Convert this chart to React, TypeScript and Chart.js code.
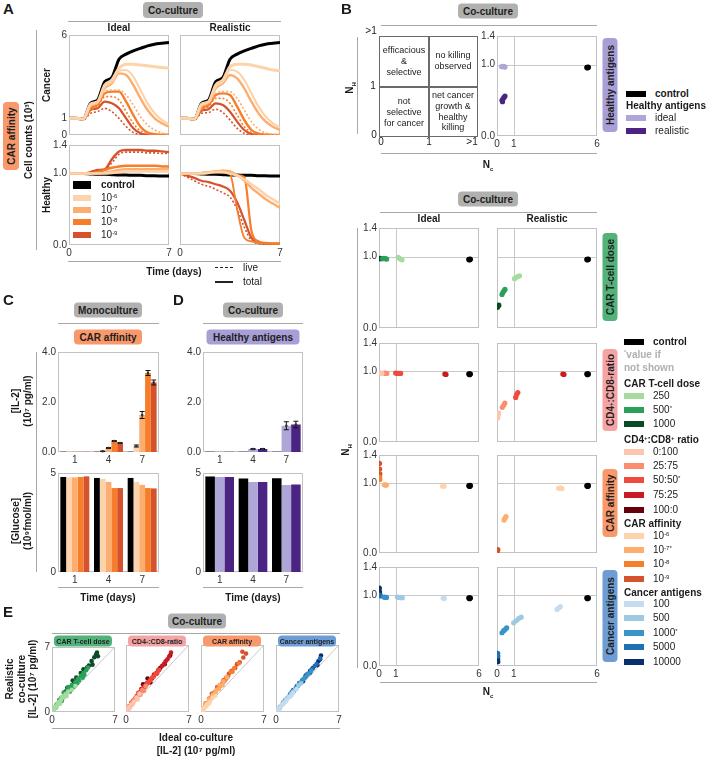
import React, { useEffect, useRef } from "react";
import { Chart, registerables } from "chart.js";
Chart.register(...registerables);

if (typeof document !== "undefined") { document.body.style.margin = "0"; document.body.style.background = "#fff"; }

const FONT = "'Liberation Sans', Arial, Helvetica, sans-serif";

// ---------------- DATA ----------------
const T = [0, 0.5, 1, 1.5, 2, 2.5, 3, 3.5, 4, 4.5, 5, 5.5, 6, 6.5, 7];

// Panel A – cancer, ideal
const CI_control = [1, 1, 0.95, 1.9, 2.1, 3.2, 3.45, 4.55, 4.85, 5.05, 5.2, 5.35, 5.45, 5.5, 5.55];
const CI_a6_hi = [1, 1, 0.95, 1.85, 2.0, 3.0, 3.3, 4.0, 4.25, 4.25, 4.2, 4.15, 4.1, 4.05, 4.0];
const CI_a6_lo = [1, 1, 0.95, 1.8, 2.0, 2.9, 3.2, 3.85, 3.9, 3.5, 2.7, 1.9, 1.3, 0.9, 0.65];
const CI_a7_a = [1, 1, 0.95, 1.75, 1.95, 2.8, 3.1, 3.7, 3.6, 3.0, 2.2, 1.5, 1.0, 0.7, 0.5];
const CI_a7_b = [1, 1, 0.95, 1.7, 1.9, 2.6, 2.7, 2.7, 2.4, 1.8, 1.1, 0.6, 0.3, 0.12, 0.05];
const CI_a8_a = [1, 1, 0.95, 1.6, 1.8, 2.5, 2.6, 2.6, 2.0, 1.2, 0.5, 0.15, 0.05, 0.02, 0.01];
const CI_a8_b = [1, 1, 0.95, 1.5, 1.7, 2.3, 2.3, 2.1, 1.4, 0.7, 0.25, 0.08, 0.02, 0.01, 0];
const CI_a9_a = [1, 1, 0.95, 1.5, 1.6, 2.0, 1.9, 1.6, 1.0, 0.4, 0.1, 0.02, 0, 0, 0];
const CI_a9_b = [1, 1, 0.9, 1.3, 1.4, 1.6, 1.4, 1.0, 0.5, 0.15, 0.03, 0, 0, 0, 0];

// Panel A – cancer, realistic
const CR_control = [1, 1, 0.95, 1.9, 2.1, 3.2, 3.45, 4.55, 4.85, 5.05, 5.2, 5.35, 5.45, 5.5, 5.55];
const CR_a6_hi = [1, 1, 0.95, 1.85, 2.0, 3.0, 3.3, 4.1, 4.25, 4.25, 4.2, 4.1, 4.0, 3.9, 3.85];
const CR_a6_lo = [1, 1, 0.95, 1.8, 2.0, 2.9, 3.2, 3.9, 3.8, 3.3, 2.5, 1.7, 1.1, 0.7, 0.45];
const CR_a7_a = [1, 1, 0.95, 1.75, 1.95, 2.8, 3.1, 3.6, 3.4, 2.8, 2.0, 1.3, 0.8, 0.5, 0.3];
const CR_a7_b = [1, 1, 0.95, 1.7, 1.9, 2.5, 2.6, 2.6, 2.2, 1.5, 0.8, 0.35, 0.12, 0.05, 0.02];
const CR_a8_a = [1, 1, 0.95, 1.6, 1.8, 2.4, 2.5, 2.4, 1.7, 0.9, 0.3, 0.08, 0.02, 0.01, 0];
const CR_a8_b = [1, 1, 0.95, 1.5, 1.7, 2.2, 2.2, 1.9, 1.2, 0.5, 0.15, 0.03, 0.01, 0, 0];
const CR_a9_a = [1, 1, 0.95, 1.45, 1.55, 1.9, 1.8, 1.4, 0.8, 0.3, 0.06, 0.01, 0, 0, 0];
const CR_a9_b = [1, 1, 0.9, 1.3, 1.35, 1.55, 1.35, 0.9, 0.4, 0.1, 0.02, 0, 0, 0, 0];

// Panel A – healthy, ideal
const HI_control = [1, 1, 1, 0.995, 0.99, 0.99, 0.985, 0.98, 0.98, 0.975, 0.975, 0.97, 0.97, 0.965, 0.965];
const HI_a6 = [1, 1, 1, 1, 1, 1, 1.01, 1.02, 1.03, 1.03, 1.03, 1.03, 1.03, 1.03, 1.03];
const HI_a7 = [1, 1, 1, 1, 1, 1.01, 1.03, 1.05, 1.06, 1.06, 1.06, 1.06, 1.06, 1.06, 1.06];
const HI_a8 = [1, 1, 1, 1, 1.02, 1.05, 1.08, 1.1, 1.11, 1.11, 1.11, 1.11, 1.11, 1.1, 1.1];
const HI_a9_a = [1, 1, 1, 1.02, 1.05, 1.06, 1.2, 1.31, 1.33, 1.33, 1.33, 1.32, 1.32, 1.31, 1.3];
const HI_a9_b = [1, 1, 1, 1.01, 1.04, 1.05, 1.15, 1.27, 1.3, 1.3, 1.3, 1.29, 1.29, 1.28, 1.28];

// Panel A – healthy, realistic
const HR_control = [1, 1, 1, 0.995, 0.99, 0.99, 0.985, 0.98, 0.98, 0.975, 0.975, 0.97, 0.97, 0.965, 0.965];
const HR_a6 = [1, 1, 1, 1.0, 1.01, 1.02, 1.02, 1.0, 0.97, 0.92, 0.85, 0.78, 0.7, 0.64, 0.58];
const HR_a7 = [1, 1, 1, 1.01, 1.02, 1.03, 1.04, 1.03, 0.98, 0.9, 0.8, 0.72, 0.64, 0.58, 0.52];
const HR_a8_a = [1, 1, 1, 1.01, 1.02, 1.03, 1.04, 1.0, 0.5, 0.1, 0.05, 0.03, 0.02, 0.02, 0.02];
const HR_a8_b = [1, 1, 1, 1.0, 1.01, 1.02, 1.02, 1.0, 0.98, 0.95, 0.2, 0.05, 0.03, 0.02, 0.02];
const HR_a9_a = [1, 0.97, 0.94, 0.9, 0.88, 0.85, 0.82, 0.76, 0.6, 0.35, 0.1, 0.03, 0.02, 0.02, 0.02];
const HR_a9_b = [1, 0.95, 0.9, 0.85, 0.82, 0.78, 0.73, 0.67, 0.5, 0.25, 0.06, 0.02, 0.01, 0.01, 0.01];

// Panel B – top (healthy antigens)
const B_control = [[5.4, 0.96], [5.47, 0.962], [5.44, 0.955]];
const B_HA_ideal = [[0.28, 0.97], [0.35, 0.975], [0.42, 0.97], [0.48, 0.965]];
const B_HA_real = [[0.3, 0.5], [0.36, 0.52], [0.42, 0.54], [0.48, 0.56], [0.33, 0.48]];

// Panel B – bottom rows
const B_dose_ideal_1000 = [[0.02, 0.97], [0.06, 0.975], [0.1, 0.97]];
const B_dose_ideal_500 = [[0.22, 0.97], [0.3, 0.975], [0.38, 0.97], [0.46, 0.965]];
const B_dose_ideal_250 = [[1.15, 0.99], [1.22, 0.975], [1.3, 0.965], [1.38, 0.955]];
const B_dose_real_250 = [[1.05, 0.69], [1.15, 0.71], [1.25, 0.72], [1.35, 0.73]];
const B_dose_real_500 = [[0.3, 0.47], [0.36, 0.5], [0.42, 0.52], [0.48, 0.54]];
const B_dose_real_1000 = [[0.03, 0.29], [0.07, 0.31], [0.11, 0.32]];

const B_ratio_ideal_0 = [[0.03, 0.98], [0.1, 0.975], [0.17, 0.97]];
const B_ratio_ideal_25 = [[0.33, 0.975], [0.4, 0.97], [0.47, 0.97]];
const B_ratio_ideal_50 = [[1.0, 0.975], [1.1, 0.97], [1.2, 0.97], [1.3, 0.97]];
const B_ratio_ideal_75 = [[3.95, 0.96], [4.02, 0.955]];
const B_ratio_real_0 = [[0.04, 0.34], [0.07, 0.38], [0.1, 0.41]];
const B_ratio_real_25 = [[0.32, 0.49], [0.4, 0.52], [0.47, 0.55]];
const B_ratio_real_50 = [[1.12, 0.63], [1.18, 0.67], [1.25, 0.7]];
const B_ratio_real_75 = [[3.95, 0.96], [4.02, 0.955]];

const B_aff_ideal_9 = [[0.03, 1.28], [0.04, 1.2], [0.05, 1.13]];
const B_aff_ideal_8 = [[0.04, 1.08], [0.05, 1.05]];
const B_aff_ideal_7 = [[0.32, 0.975], [0.38, 0.97], [0.45, 0.97]];
const B_aff_ideal_6 = [[3.82, 0.955], [3.9, 0.955]];
const B_aff_real_6 = [[3.7, 0.925], [3.8, 0.93], [3.9, 0.92]];
const B_aff_real_7 = [[0.42, 0.47], [0.48, 0.5], [0.54, 0.52]];
const B_aff_real_9 = [[0.03, 0.03], [0.05, 0.05]];

const B_ca_ideal_10000 = [[0.02, 1.1], [0.03, 1.05], [0.04, 1.02]];
const B_ca_ideal_5000 = [[0.05, 1.0], [0.08, 0.99]];
const B_ca_ideal_1000 = [[0.3, 0.975], [0.38, 0.97], [0.45, 0.97]];
const B_ca_ideal_500 = [[1.1, 0.975], [1.2, 0.97], [1.3, 0.965], [1.4, 0.965]];
const B_ca_ideal_100 = [[3.85, 0.96], [3.92, 0.955]];
const B_ca_real_100 = [[3.6, 0.8], [3.7, 0.82], [3.8, 0.84]];
const B_ca_real_500 = [[1.0, 0.61], [1.15, 0.64], [1.3, 0.67], [1.45, 0.69]];
const B_ca_real_1000 = [[0.3, 0.47], [0.4, 0.5], [0.5, 0.52], [0.58, 0.54]];
const B_ca_real_5000 = [[0.04, 0.18], [0.05, 0.14]];
const B_ca_real_10000 = [[0.04, 0.1], [0.05, 0.06]];

// Panel C / D bars
const DAYS = ["1", "4", "7"];
const C_IL2_ctrl = [0.01, 0.01, 0.01];
const C_IL2_a6 = [0.01, 0.03, 0.24];
const C_IL2_a7 = [0.01, 0.16, 1.48];
const C_IL2_a8 = [0.01, 0.44, 3.16];
const C_IL2_a9 = [0.01, 0.36, 2.78];
const C_IL2_err_a6 = [0, 0.01, 0.04];
const C_IL2_err_a7 = [0, 0.02, 0.14];
const C_IL2_err_a8 = [0, 0.02, 0.1];
const C_IL2_err_a9 = [0, 0.02, 0.1];
const C_GLU_ctrl = [4.8, 4.75, 4.75];
const C_GLU_a6 = [4.78, 4.7, 4.55];
const C_GLU_a7 = [4.78, 4.55, 4.4];
const C_GLU_a8 = [4.8, 4.24, 4.24];
const C_GLU_a9 = [4.83, 4.24, 4.22];
const D_IL2_ctrl = [0.01, 0.01, 0.01];
const D_IL2_ideal = [0.01, 0.12, 1.05];
const D_IL2_real = [0.01, 0.12, 1.1];
const D_IL2_err_ideal = [0, 0.02, 0.16];
const D_IL2_err_real = [0, 0.02, 0.13];
const D_GLU_ctrl = [4.82, 4.72, 4.74];
const D_GLU_ideal = [4.8, 4.55, 4.4];
const D_GLU_real = [4.8, 4.55, 4.42];

// Panel E scatter
const E_dose250 = [[0.05, 0.1], [0.2, 0.3], [0.4, 0.6], [0.6, 0.8], [0.8, 1.1], [1.0, 1.3], [1.3, 1.6], [1.5, 1.9], [1.8, 2.2], [0.3, 0.5], [0.7, 1.0], [0.15, 0.25], [0.5, 0.5], [0.9, 0.9], [1.1, 1.6], [1.6, 1.7], [2.2, 2.4], [2.6, 2.8]];
const E_dose500 = [[0.3, 0.4], [0.5, 0.8], [0.9, 1.2], [1.2, 1.6], [1.5, 2.0], [1.9, 2.4], [2.2, 2.9], [2.6, 3.2], [2.9, 3.6], [3.2, 3.9], [3.5, 4.2], [3.8, 4.5], [4.0, 4.8], [0.1, 0.15], [0.4, 0.45], [0.7, 0.9], [1.0, 1.5], [1.4, 1.7], [1.7, 2.3], [2.0, 2.2], [2.4, 2.7], [2.8, 3.1], [3.0, 3.4], [3.4, 3.7], [3.6, 4.0], [2.1, 2.7], [1.1, 1.2], [0.8, 1.3], [1.3, 2.1], [1.8, 2.7]];
const E_dose1000 = [[2.3, 3.4], [2.5, 3.2], [2.7, 3.7], [3.2, 4.2], [3.7, 4.5], [4.1, 5.0], [4.4, 5.5], [4.7, 5.9], [4.9, 6.2], [5.1, 6.0], [4.5, 5.1], [1.5, 2.2], [1.7, 2.6], [3.5, 4.6], [3.9, 4.8], [5.0, 6.4]];
const E_r0 = [[0.1, 0.2], [0.3, 0.5], [0.6, 0.8], [0.9, 1.1], [1.2, 1.5], [1.5, 1.9], [0.4, 0.4], [0.8, 0.9], [1.3, 1.3]];
const E_r25 = [[0.2, 0.3], [0.5, 0.7], [0.8, 1.1], [1.1, 1.5], [1.5, 1.9], [1.8, 2.3], [2.2, 2.7], [0.3, 0.6], [0.7, 0.8], [1.0, 1.3], [1.6, 1.8], [2.0, 2.2]];
const E_r50 = [[0.4, 0.6], [0.8, 1.2], [1.2, 1.7], [1.7, 2.2], [2.1, 2.6], [2.5, 3.1], [2.9, 3.6], [3.3, 4.0], [3.7, 4.4], [0.6, 1.0], [1.0, 1.4], [1.4, 2.0], [1.9, 2.4], [2.3, 2.9], [2.7, 3.3], [3.1, 3.7], [3.5, 4.1]];
const E_r75 = [[1.4, 2.0], [2.0, 2.7], [2.6, 3.3], [3.1, 3.9], [3.6, 4.4], [4.0, 4.8], [4.4, 5.3], [4.8, 5.8], [5.0, 6.2], [1.7, 2.4], [2.3, 3.0], [2.9, 3.5], [3.4, 4.0], [4.2, 5.0], [4.6, 5.5]];
const E_r100 = [[2.4, 3.5], [2.7, 3.1], [3.4, 4.1], [4.3, 5.0], [4.9, 5.9], [1.9, 2.9], [3.8, 4.6]];
const E_a6 = [[0.05, 0.1], [0.2, 0.3], [0.4, 0.5], [0.7, 0.8], [1.0, 1.1], [1.3, 1.5], [0.3, 0.2], [0.6, 0.6], [0.9, 0.9], [1.6, 1.7]];
const E_a7 = [[0.2, 0.4], [0.5, 0.8], [0.9, 1.3], [1.3, 1.8], [1.7, 2.3], [2.1, 2.8], [2.5, 3.2], [2.9, 3.6], [0.4, 0.5], [0.8, 1.0], [1.2, 1.5], [1.6, 2.0], [2.0, 2.4], [2.4, 2.8]];
const E_a8 = [[0.5, 0.9], [0.9, 1.4], [1.4, 2.0], [1.9, 2.6], [2.4, 3.1], [2.8, 3.6], [3.3, 4.2], [3.7, 4.6], [4.2, 5.1], [1.1, 1.5], [1.6, 2.1], [2.1, 2.7], [2.6, 3.2], [3.0, 3.7], [3.5, 4.2]];
const E_a9 = [[1.2, 1.9], [1.8, 2.6], [2.5, 3.3], [3.1, 4.0], [3.8, 4.6], [4.3, 5.2], [4.7, 5.7], [5.0, 6.1], [4.6, 6.3], [2.1, 2.8], [2.8, 3.5], [3.4, 4.3], [4.0, 5.0]];
const E_c100 = [[0.05, 0.1], [0.3, 0.4], [0.6, 0.7], [0.9, 1.0], [1.2, 1.3], [1.5, 1.6], [1.9, 2.0], [0.4, 0.3], [0.8, 0.8], [1.1, 1.1], [1.7, 1.7], [2.3, 2.4]];
const E_c500 = [[0.2, 0.3], [0.5, 0.6], [0.9, 1.0], [1.3, 1.5], [1.7, 1.9], [2.1, 2.3], [2.5, 2.8], [0.7, 0.8], [1.1, 1.3], [1.5, 1.6], [1.9, 2.1], [2.8, 3.0]];
const E_c1000 = [[0.4, 0.5], [0.8, 1.0], [1.2, 1.4], [1.7, 2.0], [2.2, 2.5], [2.6, 3.0], [3.0, 3.4], [3.4, 3.8], [3.9, 4.3], [1.0, 1.2], [1.5, 1.7], [2.0, 2.2], [2.4, 2.7], [2.8, 3.1], [3.2, 3.6], [3.6, 4.0]];
const E_c5000 = [[1.0, 1.2], [1.6, 1.9], [2.3, 2.7], [2.9, 3.3], [3.5, 4.0], [4.0, 4.5], [4.5, 5.0], [4.9, 5.6], [1.9, 2.3], [2.6, 3.0], [3.2, 3.6], [3.8, 4.1], [4.3, 4.8]];
const E_c10000 = [[1.8, 2.1], [2.6, 3.0], [3.3, 3.8], [4.1, 4.6], [4.7, 5.3], [5.0, 5.9], [4.6, 4.9], [3.0, 3.2], [3.8, 4.3], [4.9, 5.5]];

// ---------------- COLOURS ----------------
const A6 = "#fdd3ab", A7 = "#fdad6d", A8 = "#f57d2b", A9 = "#d4532d";
const G250 = "#a6dba0", G500 = "#2aa05a", G1000 = "#0a4a25";
const R0 = "#fcc5b0", R25 = "#fb8d6f", R50 = "#ef4a3c", R75 = "#c81b24", R100 = "#67000d";
const C100 = "#c6dbef", C500 = "#9ecae1", C1000 = "#3a93c6", C5000 = "#1f6fb2", C10000 = "#08306b";
const HA_I = "#aea6d6", HA_R = "#4b2383";
const P_GREEN = "#52b27a", P_PINK = "#f5a4a6", P_ORANGE = "#f8986b", P_BLUE = "#6d9dd4", P_PURPLE = "#a79fd6", P_GRAY = "#b0b0b0";

// ---------------- CHART HELPERS ----------------
function lin(min: number, max: number, ticks: number[], labels: string[], show = true) {
  return {
    type: "linear", min, max,
    grid: { display: false, drawTicks: false }, border: { display: false },
    afterBuildTicks: (ax: any) => { ax.ticks = ticks.map((v) => ({ value: v })); },
    ticks: { display: show, autoSkip: false, maxRotation: 0, padding: 2, color: "#333", font: { size: 10, family: FONT }, callback: (_v: any, i: number) => labels[i] },
  };
}
function cat(show = true) {
  return {
    type: "category", grid: { display: false, drawTicks: false }, border: { display: false }, offset: true,
    ticks: { display: show, padding: 2, color: "#333", font: { size: 10, family: FONT } },
  };
}

const framePlugin = {
  id: "frame",
  beforeDatasetsDraw(chart: any) {
    const { ctx, chartArea: a } = chart;
    ctx.save(); ctx.strokeStyle = "#c2c2c2"; ctx.lineWidth = 1;
    ctx.strokeRect(Math.round(a.left) + 0.5, Math.round(a.top) + 0.5, Math.round(a.right - a.left) - 1, Math.round(a.bottom - a.top) - 1);
    ctx.restore();
  },
};
function refs(xs: number[], ys: number[], diag = false) {
  return {
    id: "refs",
    beforeDatasetsDraw(chart: any) {
      const { ctx, chartArea: a, scales } = chart;
      ctx.save(); ctx.strokeStyle = "#c8c8c8"; ctx.lineWidth = 1;
      xs.forEach((v) => { const p = Math.round(scales.x.getPixelForValue(v)) + 0.5; ctx.beginPath(); ctx.moveTo(p, a.top); ctx.lineTo(p, a.bottom); ctx.stroke(); });
      ys.forEach((v) => { const p = Math.round(scales.y.getPixelForValue(v)) + 0.5; ctx.beginPath(); ctx.moveTo(a.left, p); ctx.lineTo(a.right, p); ctx.stroke(); });
      if (diag) {
        ctx.beginPath();
        ctx.moveTo(scales.x.getPixelForValue(scales.x.min), scales.y.getPixelForValue(scales.y.min));
        ctx.lineTo(scales.x.getPixelForValue(scales.x.max), scales.y.getPixelForValue(scales.y.max));
        ctx.stroke();
      }
      ctx.restore();
    },
  };
}
const errPlugin = {
  id: "errs",
  afterDatasetsDraw(chart: any) {
    const { ctx, scales } = chart;
    chart.data.datasets.forEach((ds: any, i: number) => {
      if (!ds.errs) return;
      const meta = chart.getDatasetMeta(i);
      meta.data.forEach((bar: any, j: number) => {
        const e = ds.errs[j]; if (!e) return;
        const v = ds.data[j];
        const y1 = scales.y.getPixelForValue(v + e), y0 = scales.y.getPixelForValue(v - e);
        ctx.save(); ctx.strokeStyle = "#111"; ctx.lineWidth = 1;
        ctx.beginPath(); ctx.moveTo(bar.x, y0); ctx.lineTo(bar.x, y1);
        ctx.moveTo(bar.x - 2.5, y0); ctx.lineTo(bar.x + 2.5, y0);
        ctx.moveTo(bar.x - 2.5, y1); ctx.lineTo(bar.x + 2.5, y1); ctx.stroke();
        ctx.fillStyle = "#333";
        ctx.beginPath(); ctx.arc(bar.x, scales.y.getPixelForValue(v), 1.3, 0, Math.PI * 2); ctx.fill();
        ctx.restore();
      });
    });
  },
};

function baseOptions(scales: any) {
  return { animation: false, responsive: false, maintainAspectRatio: false, plugins: { legend: { display: false }, tooltip: { enabled: false } }, scales };
}

function ln(vals: number[], color: string, width: number, dash: number[] = []) {
  return { data: T.map((t, i) => ({ x: t, y: vals[i] })), borderColor: color, borderWidth: width, borderDash: dash, pointRadius: 0, fill: false, cubicInterpolationMode: "monotone" };
}
function pts(arr: number[][], color: string, r = 2.4) {
  return { data: arr.map((p) => ({ x: p[0], y: p[1] })), backgroundColor: color, borderColor: color, borderWidth: 0, pointRadius: r };
}
function bar(vals: number[], color: string, errs?: number[]) {
  return { data: vals, backgroundColor: color, borderWidth: 0, categoryPercentage: 0.86, barPercentage: 1.0, errs };
}

function Plot({ left, top, w, h, padL = 26, padB = 14, padT = 8, padR = 8, config }: any) {
  const ref = useRef<HTMLCanvasElement>(null);
  const W = w + padL + padR, H = h + padT + padB;
  useEffect(() => {
    const cfg = config;
    cfg.options.layout = { padding: { top: padT, right: padR, left: 0, bottom: 0 } };
    cfg.options.scales.x.afterFit = (s: any) => { s.height = padB; };
    cfg.options.scales.y.afterFit = (s: any) => { s.width = padL; };
    const c = new Chart(ref.current as any, cfg);
    return () => c.destroy();
  }, []);
  return <canvas ref={ref} width={W} height={H} style={{ position: "absolute", left: left - padL, top: top - padT, width: W, height: H }} />;
}

// ---------------- HTML HELPERS ----------------
function Tx({ x, y, children, size = 10, bold = false, color = "#1a1a1a", rot = 0, align = "center", lh = 1.15 }: any) {
  const tr = align === "center" ? `translate(-50%,-50%) rotate(${rot}deg)` : align === "right" ? "translate(-100%,-50%)" : "translateY(-50%)";
  return <div style={{ position: "absolute", left: x, top: y, transform: tr, fontSize: size, fontWeight: bold ? 700 : 400, color, fontFamily: FONT, whiteSpace: "nowrap", textAlign: "center", lineHeight: lh, zIndex: 3 }}>{children}</div>;
}
function Pill({ cx, cy, w, h, bg, children, size = 10, rot = 0 }: any) {
  return <div style={{ position: "absolute", left: cx, top: cy, width: w, height: h, transform: `translate(-50%,-50%) rotate(${rot}deg)`, background: bg, borderRadius: 4, display: "flex", alignItems: "center", justifyContent: "center", fontSize: size, fontWeight: 700, color: "#1e1e1e", fontFamily: FONT, whiteSpace: "nowrap", zIndex: 3 }}>{children}</div>;
}
function HL({ x1, x2, y, c = "#a8a8a8" }: any) { return <div style={{ position: "absolute", left: x1, top: y, width: x2 - x1, height: 1, background: c }} />; }
function VL({ x, y1, y2, c = "#a8a8a8" }: any) { return <div style={{ position: "absolute", left: x, top: y1, width: 1, height: y2 - y1, background: c }} />; }
function Sw({ x, y, w = 20, h = 6, c }: any) { return <div style={{ position: "absolute", left: x, top: y - h / 2, width: w, height: h, background: c, zIndex: 3 }} />; }
function Leg({ x, y, c, children, bold = false, tx = 29, w = 20, h = 6 }: any) {
  return <>{c && <Sw x={x} y={y} c={c} w={w} h={h} />}<Tx x={x + tx} y={y} align="left" bold={bold} size={10}>{children}</Tx></>;
}
const sup = (s: string) => <sup style={{ fontSize: "0.6em", verticalAlign: "0.6em", lineHeight: 0 }}>{s}</sup>;

// ---------------- CONFIG BUILDERS ----------------
function cancerCfg(c: any, showY: boolean) {
  return {
    type: "line",
    data: { datasets: [
      ln(c.a6hi, A6, 3), ln(c.a6lo, A6, 2.2), ln(c.a6lo, A6, 1.2, [2, 2]),
      ln(c.a7a, A7, 2.4), ln(c.a7b, A7, 1.6, [2, 2]),
      ln(c.a8a, A8, 2.4), ln(c.a8b, A8, 1.6, [2, 2]),
      ln(c.a9a, A9, 2.2), ln(c.a9b, A9, 1.6, [2, 2]),
      ln(c.ctrl, "#000", 3),
    ] },
    options: baseOptions({ x: lin(0, 7, [0, 7], ["0", "7"], false), y: lin(0, 6, [0, 1, 6], ["0", "1", "6"], showY) }),
    plugins: [framePlugin],
  };
}
function healthyCfg(h: any, showY: boolean) {
  return {
    type: "line",
    data: { datasets: h.map((d: any) => ln(d[0], d[1], d[2], d[3])) },
    options: baseOptions({ x: lin(0, 7, [0, 7], ["0", "7"], true), y: lin(0, 1.4, [0, 1, 1.4], ["0.0", "1.0", "1.4"], showY) }),
    plugins: [framePlugin],
  };
}
function bScatter(groups: any[], showX: boolean, showY: boolean) {
  return {
    type: "scatter",
    data: { datasets: [...groups.map((g) => pts(g[0], g[1], 2.6)), pts(B_control, "#000", 2.8)] },
    options: baseOptions({ x: lin(0, 6, [0, 1, 6], ["0", "1", "6"], showX), y: lin(0, 1.4, [0, 1, 1.4], ["0.0", "1.0", "1.4"], showY) }),
    plugins: [refs([1], [1]), framePlugin],
  };
}
function barCfg(datasets: any[], yMax: number, ticks: number[], labels: string[]) {
  return {
    type: "bar",
    data: { labels: DAYS, datasets },
    options: baseOptions({ x: cat(true), y: lin(0, yMax, ticks, labels, true) }),
    plugins: [framePlugin, errPlugin],
  };
}
function eCfg(groups: any[], showY: boolean) {
  return {
    type: "scatter",
    data: { datasets: groups.map((g) => pts(g[0], g[1], 2.3)) },
    options: baseOptions({ x: lin(0, 7, [0, 7], ["0", "7"], true), y: lin(0, 7, [0, 7], ["0", "7"], showY) }),
    plugins: [refs([], [], true), framePlugin],
  };
}

// ---------------- APP ----------------
export default function App() {
  const ci = { ctrl: CI_control, a6hi: CI_a6_hi, a6lo: CI_a6_lo, a7a: CI_a7_a, a7b: CI_a7_b, a8a: CI_a8_a, a8b: CI_a8_b, a9a: CI_a9_a, a9b: CI_a9_b };
  const cr = { ctrl: CR_control, a6hi: CR_a6_hi, a6lo: CR_a6_lo, a7a: CR_a7_a, a7b: CR_a7_b, a8a: CR_a8_a, a8b: CR_a8_b, a9a: CR_a9_a, a9b: CR_a9_b };
  const hi = [[HI_a6, A6, 2.6], [HI_a7, A7, 2.4], [HI_a8, A8, 2.6], [HI_a8, A8, 1.2, [2, 2]], [HI_a9_a, A9, 2.4], [HI_a9_b, A9, 1.6, [2, 2]], [HI_control, "#000", 3]];
  const hr = [[HR_a6, A6, 2.6], [HR_a7, A7, 2.4], [HR_a8_a, A8, 1.8], [HR_a8_b, A8, 2.2], [HR_a9_a, A9, 2.2], [HR_a9_b, A9, 1.6, [2, 2]], [HR_control, "#000", 3]];

  const yB = [228, 343, 455, 567];
  const hB = [100, 99, 98, 99];
  const ePlots = [
    { x: 52, g: [[E_dose250, G250], [E_dose500, G500], [E_dose1000, G1000]], pill: "CAR T-cell dose", bg: P_GREEN },
    { x: 126, g: [[E_r0, R0], [E_r25, R25], [E_r50, R50], [E_r75, R75], [E_r100, R100]], pill: <>CD4{sup("+")}:CD8{sup("+")} ratio</>, bg: P_PINK },
    { x: 201, g: [[E_a6, A6], [E_a7, A7], [E_a8, A8], [E_a9, A9]], pill: "CAR affinity", bg: P_ORANGE },
    { x: 276, g: [[E_c100, C100], [E_c500, C500], [E_c1000, C1000], [E_c5000, C5000], [E_c10000, C10000]], pill: "Cancer antigens", bg: P_BLUE },
  ];

  return (
    <div style={{ position: "relative", width: 708, height: 757, background: "#fff", overflow: "hidden", fontFamily: FONT }}>
      {/* ===== Panel A ===== */}
      <Tx x={3} y={9} align="left" bold size={15}>A</Tx>
      <Pill cx={173} cy={10} w={60} h={16} bg={P_GRAY} size={10}>Co-culture</Pill>
      <HL x1={68} x2={281} y={21} />
      <Tx x={119} y={28} bold size={10}>Ideal</Tx>
      <Tx x={230} y={28} bold size={10}>Realistic</Tx>
      <Pill cx={11} cy={136} w={68} h={16} bg={P_ORANGE} rot={-90} size={10}>CAR affinity</Pill>
      <Tx x={29} y={140} bold size={10} rot={-90}>Cell counts (10³)</Tx>
      <VL x={36} y1={30} y2={250} />
      <Tx x={47} y={85} bold size={10} rot={-90}>Cancer</Tx>
      <Tx x={47} y={195} bold size={10} rot={-90}>Healthy</Tx>
      <Plot left={69} top={35} w={100} h={100} config={cancerCfg(ci, true)} />
      <Plot left={180} top={35} w={100} h={100} config={cancerCfg(cr, false)} />
      <Plot left={69} top={145} w={100} h={100} config={healthyCfg(hi, true)} />
      <Plot left={180} top={145} w={100} h={100} config={healthyCfg(hr, false)} />
      <Leg x={73} y={185} c="#000" bold tx={28} w={18} h={8}>control</Leg>
      <Leg x={73} y={198} c={A6} tx={28} w={18}>10{sup("-6")}</Leg>
      <Leg x={73} y={210} c={A7} tx={28} w={18}>10{sup("-7")}</Leg>
      <Leg x={73} y={222} c={A8} tx={28} w={18}>10{sup("-8")}</Leg>
      <Leg x={73} y={235} c={A9} tx={28} w={18}>10{sup("-9")}</Leg>
      <HL x1={68} x2={281} y={261} />
      <Tx x={174} y={272} bold size={10}>Time (days)</Tx>
      <div style={{ position: "absolute", left: 215, top: 267, width: 18, height: 0, borderTop: "1.5px dashed #222" }} />
      <Tx x={243} y={268} align="left" size={10}>live</Tx>
      <div style={{ position: "absolute", left: 215, top: 281, width: 18, height: 1.5, background: "#222" }} />
      <Tx x={243} y={282} align="left" size={10}>total</Tx>

      {/* ===== Panel B top ===== */}
      <Tx x={341} y={9} align="left" bold size={15}>B</Tx>
      <Pill cx={488} cy={11} w={60} h={15} bg={P_GRAY} size={10}>Co-culture</Pill>
      <HL x1={381} x2={597} y={25} />
      <div style={{ position: "absolute", left: 379, top: 36, width: 99, height: 101, border: "1.5px solid #6a6a6a", boxSizing: "border-box" }} />
      <div style={{ position: "absolute", left: 428, top: 36, width: 1.5, height: 101, background: "#6a6a6a" }} />
      <div style={{ position: "absolute", left: 379, top: 86, width: 99, height: 1.5, background: "#6a6a6a" }} />
      <Tx x={404} y={61} size={9} lh={1.2}>efficacious<br />&amp;<br />selective</Tx>
      <Tx x={453} y={61} size={9} lh={1.2}>no killing<br />observed</Tx>
      <Tx x={404} y={112} size={9} lh={1.2}>not<br />selective<br />for cancer</Tx>
      <Tx x={453} y={112} size={9} lh={1.2}>net cancer<br />growth &amp;<br />healthy<br />killing</Tx>
      <Tx x={371} y={31} size={10}>&gt;1</Tx>
      <Tx x={373} y={86} size={10}>1</Tx>
      <Tx x={374} y={135} size={10}>0</Tx>
      <Tx x={381} y={142} size={10}>0</Tx>
      <Tx x={429} y={142} size={10}>1</Tx>
      <Tx x={472} y={142} size={10}>&gt;1</Tx>
      <VL x={357} y1={37} y2={134} />
      <Tx x={351} y={88} bold size={10} rot={-90}>N<sub style={{ fontSize: 6 }}>H</sub></Tx>
      <Plot left={497} top={36} w={100} h={100} config={bScatter([[B_HA_ideal, HA_I], [B_HA_real, HA_R]], true, true)} />
      <Pill cx={610} cy={85} w={94} h={15} bg={P_PURPLE} rot={-90} size={10}>Healthy antigens</Pill>
      <Leg x={626} y={94} c="#000" bold>control</Leg>
      <Tx x={626} y={106} align="left" bold size={10}>Healthy antigens</Tx>
      <Leg x={626} y={118} c={HA_I}>ideal</Leg>
      <Leg x={626} y={131} c={HA_R}>realistic</Leg>
      <HL x1={381} x2={597} y={153} />
      <Tx x={488} y={166} bold size={10}>N<sub style={{ fontSize: 6 }}>c</sub></Tx>

      {/* ===== Panel B bottom ===== */}
      <Pill cx={488} cy={199} w={60} h={15} bg={P_GRAY} size={10}>Co-culture</Pill>
      <HL x1={380} x2={597} y={212} />
      <Tx x={429} y={219} bold size={10}>Ideal</Tx>
      <Tx x={547} y={219} bold size={10}>Realistic</Tx>
      <VL x={357} y1={228} y2={668} />
      <Tx x={347} y={450} bold size={10} rot={-90}>N<sub style={{ fontSize: 6 }}>H</sub></Tx>
      <Plot left={379} top={yB[0]} w={100} h={hB[0]} config={bScatter([[B_dose_ideal_250, G250], [B_dose_ideal_500, G500], [B_dose_ideal_1000, G1000]], false, true)} />
      <Plot left={497} top={yB[0]} w={100} h={hB[0]} config={bScatter([[B_dose_real_250, G250], [B_dose_real_500, G500], [B_dose_real_1000, G1000]], false, false)} />
      <Plot left={379} top={yB[1]} w={100} h={hB[1]} config={bScatter([[B_ratio_ideal_0, R0], [B_ratio_ideal_25, R25], [B_ratio_ideal_50, R50], [B_ratio_ideal_75, R75]], false, true)} />
      <Plot left={497} top={yB[1]} w={100} h={hB[1]} config={bScatter([[B_ratio_real_0, R0], [B_ratio_real_25, R25], [B_ratio_real_50, R50], [B_ratio_real_75, R75]], false, false)} />
      <Plot left={379} top={yB[2]} w={100} h={hB[2]} config={bScatter([[B_aff_ideal_6, A6], [B_aff_ideal_7, A7], [B_aff_ideal_8, A8], [B_aff_ideal_9, A9]], false, true)} />
      <Plot left={497} top={yB[2]} w={100} h={hB[2]} config={bScatter([[B_aff_real_6, A6], [B_aff_real_7, A7], [B_aff_real_9, A9]], false, false)} />
      <Plot left={379} top={yB[3]} w={100} h={hB[3]} config={bScatter([[B_ca_ideal_100, C100], [B_ca_ideal_500, C500], [B_ca_ideal_1000, C1000], [B_ca_ideal_5000, C5000], [B_ca_ideal_10000, C10000]], true, true)} />
      <Plot left={497} top={yB[3]} w={100} h={hB[3]} config={bScatter([[B_ca_real_100, C100], [B_ca_real_500, C500], [B_ca_real_1000, C1000], [B_ca_real_5000, C5000], [B_ca_real_10000, C10000]], true, false)} />
      <Pill cx={610} cy={277} w={88} h={15} bg={P_GREEN} rot={-90} size={10}>CAR T-cell dose</Pill>
      <Pill cx={610} cy={390} w={82} h={15} bg={P_PINK} rot={-90} size={10}>CD4{sup("+")}:CD8{sup("+")} ratio</Pill>
      <Pill cx={610} cy={503} w={68} h={15} bg={P_ORANGE} rot={-90} size={10}>CAR affinity</Pill>
      <Pill cx={610} cy={616} w={92} h={15} bg={P_BLUE} rot={-90} size={10}>Cancer antigens</Pill>
      <HL x1={380} x2={597} y={682} />
      <Tx x={488} y={693} bold size={10}>N<sub style={{ fontSize: 6 }}>c</sub></Tx>

      {/* legend B bottom */}
      <Leg x={624} y={342} c="#000" bold>control</Leg>
      <Tx x={624} y={361} align="left" bold size={10} color="#b0b0b0" lh={1.25}><div style={{ textAlign: "left" }}>{sup("*")}value if<br />not shown</div></Tx>
      <Tx x={624} y={384} align="left" bold size={10}>CAR T-cell dose</Tx>
      <Leg x={624} y={396} c={G250}>250</Leg>
      <Leg x={624} y={410} c={G500}>500{sup("*")}</Leg>
      <Leg x={624} y={424} c={G1000}>1000</Leg>
      <Tx x={624} y={440} align="left" bold size={10}>CD4{sup("+")}:CD8{sup("+")} ratio</Tx>
      <Leg x={624} y={452} c={R0}>0:100</Leg>
      <Leg x={624} y={466} c={R25}>25:75</Leg>
      <Leg x={624} y={480} c={R50}>50:50{sup("*")}</Leg>
      <Leg x={624} y={495} c={R75}>75:25</Leg>
      <Leg x={624} y={510} c={R100}>100:0</Leg>
      <Tx x={624} y={524} align="left" bold size={10}>CAR affinity</Tx>
      <Leg x={624} y={536} c={A6}>10{sup("-6")}</Leg>
      <Leg x={624} y={550} c={A7}>10{sup("-7*")}</Leg>
      <Leg x={624} y={564} c={A8}>10{sup("-8")}</Leg>
      <Leg x={624} y={579} c={A9}>10{sup("-9")}</Leg>
      <Tx x={624} y={593} align="left" bold size={10}>Cancer antigens</Tx>
      <Leg x={624} y={604} c={C100}>100</Leg>
      <Leg x={624} y={618} c={C500}>500</Leg>
      <Leg x={624} y={633} c={C1000}>1000{sup("*")}</Leg>
      <Leg x={624} y={647} c={C5000}>5000</Leg>
      <Leg x={624} y={662} c={C10000}>10000</Leg>

      {/* ===== Panel C ===== */}
      <Tx x={3} y={300} align="left" bold size={15}>C</Tx>
      <Pill cx={108} cy={310} w={68} h={15} bg={P_GRAY} size={10}>Monoculture</Pill>
      <HL x1={58} x2={159} y={323} />
      <Pill cx={108} cy={337} w={68} h={15} bg={P_ORANGE} size={10}>CAR affinity</Pill>
      <VL x={36} y1={352} y2={572} />
      <Tx x={21} y={401} bold size={10} rot={-90} lh={1.15}>[IL-2]<br />(10⁷ pg/ml)</Tx>
      <Tx x={21} y={521} bold size={10} rot={-90} lh={1.15}>[Glucose]<br />(10⁹fmol/ml)</Tx>
      <Plot left={58} top={352} w={101} h={100} config={barCfg([bar(C_IL2_ctrl, "#000"), bar(C_IL2_a6, A6, C_IL2_err_a6), bar(C_IL2_a7, A7, C_IL2_err_a7), bar(C_IL2_a8, A8, C_IL2_err_a8), bar(C_IL2_a9, A9, C_IL2_err_a9)], 4, [0, 2, 4], ["0.0", "2.0", "4.0"])} />
      <Plot left={58} top={473} w={101} h={99} config={barCfg([bar(C_GLU_ctrl, "#000"), bar(C_GLU_a6, A6), bar(C_GLU_a7, A7), bar(C_GLU_a8, A8), bar(C_GLU_a9, A9)], 5, [0, 5], ["0", "5"])} />
      <HL x1={58} x2={159} y={587} />
      <Tx x={108} y={598} bold size={10}>Time (days)</Tx>

      {/* ===== Panel D ===== */}
      <Tx x={173} y={300} align="left" bold size={15}>D</Tx>
      <Pill cx={253} cy={310} w={60} h={15} bg={P_GRAY} size={10}>Co-culture</Pill>
      <HL x1={203} x2={303} y={323} />
      <Pill cx={253} cy={337} w={93} h={15} bg={P_PURPLE} size={10}>Healthy antigens</Pill>
      <Plot left={203} top={352} w={100} h={100} config={barCfg([bar(D_IL2_ctrl, "#000"), bar(D_IL2_ideal, HA_I, D_IL2_err_ideal), bar(D_IL2_real, HA_R, D_IL2_err_real)], 4, [0, 2, 4], ["0.0", "2.0", "4.0"])} />
      <Plot left={203} top={473} w={100} h={99} config={barCfg([bar(D_GLU_ctrl, "#000"), bar(D_GLU_ideal, HA_I), bar(D_GLU_real, HA_R)], 5, [0, 5], ["0", "5"])} />
      <HL x1={203} x2={303} y={587} />
      <Tx x={253} y={598} bold size={10}>Time (days)</Tx>

      {/* ===== Panel E ===== */}
      <Tx x={3} y={612} align="left" bold size={15}>E</Tx>
      <Pill cx={197} cy={621} w={58} h={15} bg={P_GRAY} size={10}>Co-culture</Pill>
      <HL x1={52} x2={340} y={633} />
      {ePlots.map((p, i) => (
        <React.Fragment key={i}>
          <Pill cx={p.x + 31} cy={641} w={58} h={11} bg={p.bg} size={7}>{p.pill}</Pill>
          <Plot left={p.x} top={645} w={63} h={67} padL={i === 0 ? 14 : 6} padT={6} config={eCfg(p.g, i === 0)} />
        </React.Fragment>
      ))}
      <Tx x={21} y={679} bold size={10} rot={-90} lh={1.15}>Realistic<br />co-culture<br />[IL-2] (10⁷ pg/ml)</Tx>
      <HL x1={52} x2={340} y={728} />
      <Tx x={196} y={738} bold size={10}>Ideal co-culture</Tx>
      <Tx x={196} y={751} bold size={10}>[IL-2] (10⁷ pg/ml)</Tx>
    </div>
  );
}
